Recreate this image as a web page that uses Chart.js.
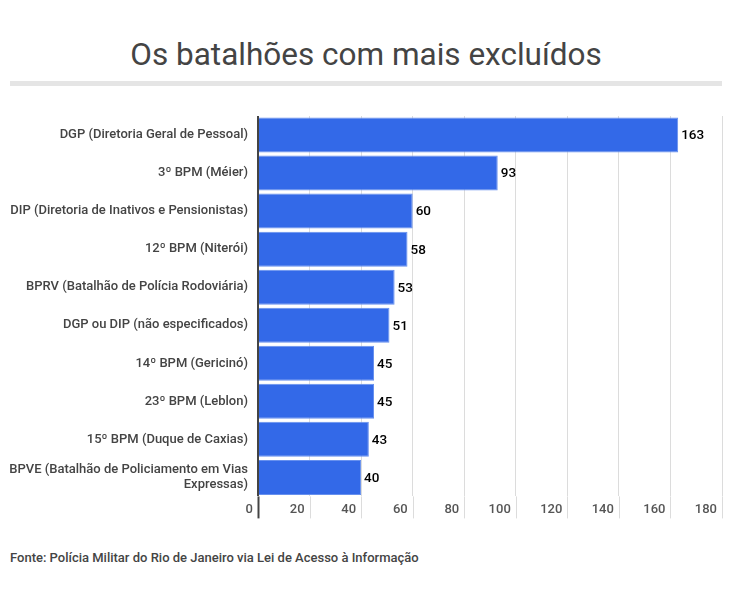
<!DOCTYPE html>
<html>
<head>
<meta charset="utf-8">
<script src="https://cdn.jsdelivr.net/npm/chart.js@4"></script>
<style>
  body { margin: 0; background: #fff; font-family: Roboto, sans-serif; }
  #wrap { position: relative; width: 738px; height: 597px; }
  h1 { position: absolute; left: 0; width: 732px; top: 35px; margin: 0; text-align: center;
       font-weight: 400; font-size: 31.5px; color: #444; line-height: 40px; }
  .rule { position: absolute; left: 10px; width: 712px; top: 81px; height: 5px; background: #e5e5e5; }
  .src { position: absolute; left: 10px; top: 550px; font-size: 13px; font-weight: 500; color: #444; }
  .box { position: absolute; left: 0; top: 100px; width: 738px; height: 430px; }
</style>
</head>
<body>
<div id="wrap">
  <h1>Os batalhões com mais excluídos</h1>
  <div class="rule"></div>
  <div class="box"><canvas id="bat"></canvas></div>
  <div class="src">Fonte: Polícia Militar do Rio de Janeiro via Lei de Acesso à Informação</div>
</div>
<script>
const categories = [
    'DGP (Diretoria Geral de Pessoal)',
    '3º BPM (Méier)',
    'DIP (Diretoria de Inativos e Pensionistas)',
    '12º BPM (Niterói)',
    'BPRV (Batalhão de Polícia Rodoviária)',
    'DGP ou DIP (não especificados)',
    '14º BPM (Gericinó)',
    '23º BPM (Leblon)',
    '15º BPM (Duque de Caxias)',
    ['BPVE (Batalhão de Policiamento em Vias', 'Expressas)']
];
const excluidos = [163, 93, 60, 58, 53, 51, 45, 45, 43, 40];
const xMax = 180;
const xStep = 20;

// value next to each bar
const valueLabels = {
    id: 'valueLabels',
    afterDatasetsDraw(chart) {
        const c = chart.ctx;
        const meta = chart.getDatasetMeta(0);
        c.save();
        c.font = '500 13.5px Roboto';
        c.fillStyle = '#000';
        c.textAlign = 'left';
        c.textBaseline = 'middle';
        meta.data.forEach((bar, i) => {
            c.fillText(excluidos[i], bar.x + 3, bar.y + 1);
        });
        c.restore();
    }
};

// gridlines run on down through the tick label row
const gridDown = {
    id: 'gridDown',
    beforeDatasetsDraw(chart) {
        const c = chart.ctx;
        const x = chart.scales.x;
        const bottom = chart.chartArea.bottom;
        c.save();
        x.ticks.forEach(t => {
            const px = Math.round(x.getPixelForValue(t.value)) + 0.5;
            c.strokeStyle = t.value === 0 ? '#444' : '#dcdcdc';
            c.lineWidth = t.value === 0 ? 2 : 1;
            c.beginPath();
            c.moveTo(px, bottom);
            c.lineTo(px, bottom + 22);
            c.stroke();
        });
        c.restore();
    }
};

new Chart(document.getElementById('bat').getContext('2d'), {
    type: 'bar',
    data: {
        labels: categories,
        datasets: [{
            data: excluidos,
            backgroundColor: '#3369e8',
            borderColor: '#6790ee',
            borderWidth: 1,
            categoryPercentage: 0.92,
            barPercentage: 1
        }]
    },
    options: {
        indexAxis: 'y',
        responsive: true,
        maintainAspectRatio: false,
        animation: false,
        layout: { padding: { top: 16, bottom: 6, right: 16 } },
        plugins: {
            legend: { display: false },
            tooltip: { enabled: false }
        },
        scales: {
            x: {
                min: 0,
                max: xMax,
                border: { display: false },
                grid: {
                    color: c => c.tick && c.tick.value === 0 ? '#444' : '#dcdcdc',
                    lineWidth: c => c.tick && c.tick.value === 0 ? 2 : 1,
                    drawTicks: false
                },
                ticks: {
                    stepSize: xStep,
                    autoSkip: false,
                    maxRotation: 0,
                    align: 'end',
                    labelOffset: -5,
                    padding: 6,
                    color: '#555',
                    font: { size: 13, weight: '500', family: 'Roboto' }
                }
            },
            y: {
                afterFit: axis => {
                    axis.width = 258;
                    axis.paddingTop = 0;
                    axis.paddingBottom = 0;
                },
                border: { display: false },
                grid: { display: false, drawTicks: false },
                ticks: {
                    padding: 10,
                    color: '#444',
                    font: { size: 13, weight: '500', family: 'Roboto', lineHeight: 1.2 }
                }
            }
        }
    },
    plugins: [gridDown, valueLabels]
});
</script>
</body>
</html>
